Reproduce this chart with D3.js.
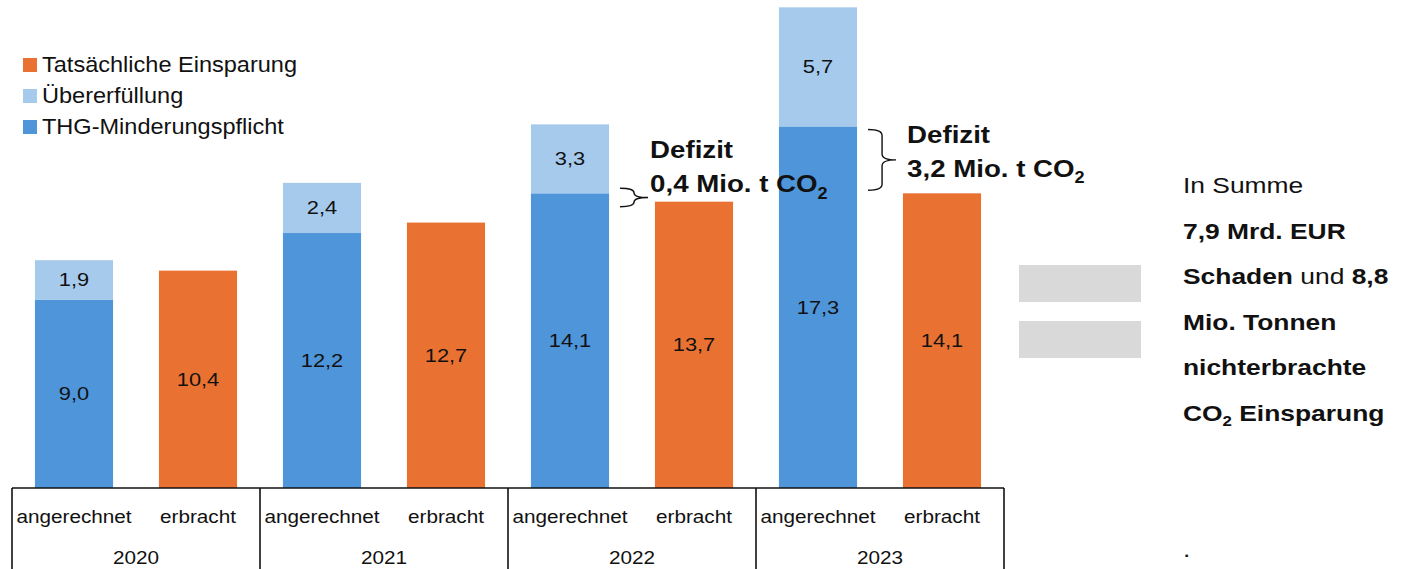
<!DOCTYPE html>
<html>
<head>
<meta charset="utf-8">
<script src="https://cdn.jsdelivr.net/npm/d3@7"></script>
<style>
  html, body { margin: 0; padding: 0; background: #fff; }
  svg { display: block; }
</style>
</head>
<body>
<svg id="chart" width="1414" height="569"></svg>
<script>
// THG-Quote: angerechnete vs. tatsächlich erbrachte Einsparung (Mio. t CO2)
const years = ["2020", "2021", "2022", "2023"];
const subLabels = ["angerechnet", "erbracht"];
const pflicht = [9.0, 12.2, 14.1, 17.3];          // THG-Minderungspflicht
const uebererfuellung = [1.9, 2.4, 3.3, 5.7];     // Übererfüllung
const einsparung = [10.4, 12.7, 13.7, 14.1];      // Tatsächliche Einsparung
const legendLabels = ["Tatsächliche Einsparung", "Übererfüllung", "THG-Minderungspflicht"];
const deficitYears = ["2022", "2023"];

const COLORS = { orange: "#E97132", blue: "#4E95D9", light: "#A6CAEC", grey: "#D9D9D9" };
const FONT = "'Liberation Sans', Arial, sans-serif";

const svg = d3.select("#chart");
const fmt = v => d3.format(".1f")(v).replace(".", ",");

// one band per bar: year × (angerechnet | erbracht)
const keys = years.flatMap(y => subLabels.map(s => y + "|" + s));
const x = d3.scaleBand().domain(keys).range([12, 1004]).paddingInner(0.37).paddingOuter(0.185);
const y = d3.scaleLinear().domain([0, 23.35]).range([488, 0]);
const step = x.step();
const x0 = x.range()[0];

// stretched text helper (text is drawn slightly wide)
function place(sel, tx, ty, sx) {
  return sel.attr("transform", `translate(${tx},${ty}) scale(${sx},1)`);
}

// stacked bars
const stacks = [];
years.forEach((yr, i) => {
  stacks.push({ key: yr + "|angerechnet", y0: 0, y1: pflicht[i], color: COLORS.blue, v: pflicht[i] });
  stacks.push({ key: yr + "|angerechnet", y0: pflicht[i], y1: pflicht[i] + uebererfuellung[i], color: COLORS.light, v: uebererfuellung[i] });
  stacks.push({ key: yr + "|erbracht", y0: 0, y1: einsparung[i], color: COLORS.orange, v: einsparung[i] });
});

const bars = svg.append("g");
bars.selectAll("rect").data(stacks).join("rect")
  .attr("x", d => x(d.key))
  .attr("width", x.bandwidth())
  .attr("y", d => y(d.y1))
  .attr("height", d => y(d.y0) - y(d.y1))
  .attr("fill", d => d.color);

bars.selectAll("text").data(stacks).join("text")
  .each(function (d) {
    place(d3.select(this), x(d.key) + x.bandwidth() / 2, (y(d.y0) + y(d.y1)) / 2, 1.18);
  })
  .attr("text-anchor", "middle")
  .attr("dominant-baseline", "central")
  .attr("font-family", FONT)
  .attr("font-size", 18.5)
  .attr("fill", "#111")
  .text(d => fmt(d.v));

// category axis drawn as a table
const axis = svg.append("g").attr("stroke", "#111").attr("stroke-width", 1.6);
axis.append("line").attr("x1", x0).attr("x2", x.range()[1]).attr("y1", y(0)).attr("y2", y(0));
d3.range(years.length + 1).forEach(i => {
  const gx = x0 + i * 2 * step;
  axis.append("line").attr("x1", gx).attr("x2", gx).attr("y1", y(0)).attr("y2", 569);
});

const axisText = svg.append("g").attr("font-family", FONT).attr("fill", "#111").attr("text-anchor", "middle");
keys.forEach(k => {
  place(axisText.append("text"), x(k) + x.bandwidth() / 2, 523, 1.12)
    .attr("font-size", 18.5).text(k.split("|")[1]);
});
years.forEach((yr, i) => {
  place(axisText.append("text"), x0 + (i * 2 + 1) * step, 564, 1.12)
    .attr("font-size", 18.5).text(yr);
});

// legend
const legendColors = [COLORS.orange, COLORS.light, COLORS.blue];
const legend = svg.append("g");
legendLabels.forEach((lab, i) => {
  const by = 72 + i * 31;
  legend.append("rect").attr("x", 23).attr("y", by - 14).attr("width", 14).attr("height", 14).attr("fill", legendColors[i]);
  place(legend.append("text"), 42, by, 1.1)
    .attr("font-family", FONT).attr("font-size", 21.4).attr("fill", "#111").text(lab);
});

// deficit braces and labels
function brace(g, xl, xt, top, bot) {
  const xm = (xl + xt) / 2, mid = (top + bot) / 2, r = Math.min(6, (bot - top) / 4);
  const p = `M${xl},${top} Q${xm},${top} ${xm},${top + r} L${xm},${mid - r} Q${xm},${mid} ${xt},${mid}` +
            ` Q${xm},${mid} ${xm},${mid + r} L${xm},${bot - r} Q${xm},${bot} ${xl},${bot}`;
  g.append("path").attr("d", p).attr("fill", "none").attr("stroke", "#111").attr("stroke-width", 1.4);
}

const deficitLayout = [
  { pad: -5, textDx: 2, line2Dy: -5 },
  { pad: 3, textDx: 11, line2Dy: 17 }
];
const ann = svg.append("g");
deficitYears.forEach((yr, j) => {
  const i = years.indexOf(yr);
  const lay = deficitLayout[j];
  const deficit = Math.round((pflicht[i] - einsparung[i]) * 10) / 10;
  const xl = x(yr + "|angerechnet") + x.bandwidth() + 11;
  const xt = xl + 28;
  const top = y(pflicht[i]) + lay.pad, bot = y(einsparung[i]) - lay.pad;
  brace(ann, xl, xt, top, bot);
  const mid = (top + bot) / 2;
  const tx = xt + lay.textDx;
  const l2 = mid + lay.line2Dy;
  place(ann.append("text"), tx, l2 - 34, 1.13)
    .attr("font-family", FONT).attr("font-weight", "bold").attr("font-size", 24.5).attr("fill", "#111")
    .text("Defizit");
  const t2 = place(ann.append("text"), tx, l2, 1.13)
    .attr("font-family", FONT).attr("font-weight", "bold").attr("font-size", 24.5).attr("fill", "#111");
  t2.append("tspan").text(fmt(deficit) + " Mio. t CO");
  t2.append("tspan").attr("font-size", 16).attr("dy", 6).text("2");
});

// grey "equals" sign
const eq = svg.append("g").attr("fill", COLORS.grey);
eq.append("rect").attr("x", 1019).attr("y", 265).attr("width", 122).attr("height", 37);
eq.append("rect").attr("x", 1019).attr("y", 321).attr("width", 122).attr("height", 37);

// summary text
const summary = [
  [["In Summe", false]],
  [["7,9 Mrd. EUR", true]],
  [["Schaden", true], [" und ", false], ["8,8", true]],
  [["Mio. Tonnen", true]],
  [["nichterbrachte", true]],
  [["CO", true], ["2", true, "sub"], [" Einsparung", true]]
];
const sumG = svg.append("g").attr("font-family", FONT).attr("fill", "#111");
summary.forEach((parts, li) => {
  const t = place(sumG.append("text"), 1183, 193 + li * 45.5, 1.2).attr("font-size", 22);
  parts.forEach(([s, bold, kind]) => {
    const ts = t.append("tspan").attr("font-weight", bold ? "bold" : "normal").text(s);
    if (kind === "sub") ts.attr("font-size", 14).attr("dy", 5);
    else if (t.selectAll("tspan").size() > 1 && parts[0][0] === "CO") ts.attr("dy", -5);
  });
});
place(sumG.append("text"), 1183, 557, 1.2).attr("font-size", 22).text(".");
</script>
</body>
</html>
